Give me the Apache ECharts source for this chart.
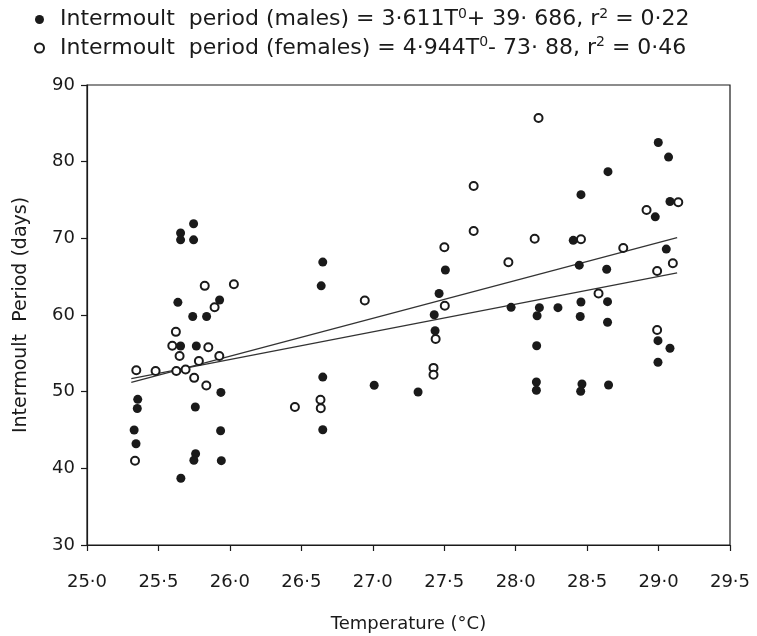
<!DOCTYPE html>
<html>
<head>
<meta charset="utf-8">
<script src="https://cdn.jsdelivr.net/npm/echarts@6/dist/echarts.min.js"></script>
<style>
	html, body { margin: 0; padding: 0; background: #fff; }
	#chart { width: 757px; height: 636px; }
</style>
</head>
<body>
<div id="chart"></div>
<script>
// males, filled dots [temperature, days]
var malePoints = [
	[25.33, 45.0], [25.343, 43.2], [25.352, 47.8], [25.355, 49.0],
	[25.655, 70.7], [25.655, 69.8], [25.746, 71.9], [25.746, 69.8],
	[25.636, 61.65], [25.928, 61.95], [25.74, 59.8], [25.837, 59.8], [25.655, 55.96], [25.765, 55.96],
	[25.758, 48.0], [25.937, 49.9], [25.935, 44.9], [25.76, 41.9], [25.748, 41.05], [25.94, 41.0], [25.657, 38.7],
	[26.65, 66.9], [26.639, 63.8], [26.65, 51.9], [26.65, 45.04], [27.01, 50.83], [27.317, 49.96],
	[27.464, 62.8], [27.43, 60.04], [27.436, 57.95], [27.508, 65.87], [27.968, 61.0],
	[28.166, 60.96], [28.15, 59.9], [28.296, 60.96], [28.403, 69.74], [28.457, 75.7], [28.445, 66.5], [28.457, 61.7], [28.452, 59.8],
	[28.147, 55.99], [28.145, 51.26], [28.145, 50.18], [28.464, 51.0], [28.455, 50.05], [28.65, 50.87],
	[28.646, 78.7], [28.637, 65.96], [28.643, 61.74], [28.643, 59.05],
	[28.998, 82.5], [29.07, 80.6], [29.08, 74.8], [28.977, 72.8], [29.054, 68.6], [28.996, 56.65], [29.08, 55.66], [28.996, 53.83]
];
// females, open circles
var femalePoints = [
	[25.336, 41.0], [25.345, 52.8], [25.48, 52.7], [25.625, 52.7], [25.69, 52.9], [25.75, 51.8], [25.835, 50.8],
	[25.622, 57.8], [25.597, 56.0], [25.849, 55.8], [25.648, 54.65], [25.783, 54.0], [25.926, 54.65],
	[25.893, 61.0], [25.824, 63.8], [26.028, 64.0],
	[26.455, 48.0], [26.634, 48.95], [26.636, 47.83], [26.944, 61.9],
	[27.425, 53.1], [27.425, 52.2], [27.44, 56.87], [27.504, 61.2], [27.501, 68.83], [27.706, 70.96], [27.706, 76.83], [27.949, 66.87],
	[28.133, 69.95], [28.457, 69.87], [28.16, 85.7], [28.58, 62.8], [28.753, 68.74], [28.916, 73.7], [29.138, 74.7],
	[28.99, 65.74], [29.10, 66.74], [28.99, 58.04]
];
// fitted lines, end points
var maleLine = [[25.31, 51.7], [29.13, 65.5]];
var femaleLine = [[25.31, 51.2], [29.13, 70.1]];

var legendNames = [
	'Intermoult  period (males) = 3·611T{sup|0}+ 39· 686, r{sup|2} = 0·22',
	'Intermoult  period (females) = 4·944T{sup|0}- 73· 88, r{sup|2} = 0·46'
];

var FONT = 'DejaVu Sans';
var INK = '#1a1a1a';

function fmtTick(v){
	return v.toFixed(1).replace('.', '·');
}

var myChart = echarts.init(document.getElementById('chart'));
var option = {
	animation: false,
	backgroundColor: '#fff',
	textStyle: { fontFamily: FONT, color: INK },
	legend: {
		orient: 'vertical',
		left: 29,
		top: 2,
		itemGap: 5,
		itemWidth: 9,
		itemHeight: 9,
		data: [legendNames[0], legendNames[1]],
		textStyle: {
			fontFamily: FONT,
			fontSize: 22,
			color: INK,
			padding: [0, 0, 0, 11],
			rich: {
				sup: { fontSize: 14, fontFamily: FONT, color: INK, padding: [0, 0, 11, 0] }
			}
		}
	},
	grid: {
		left: 87,
		right: 27,
		top: 85,
		bottom: 91,
		outerBoundsMode: 'none',
		containLabel: false,
		show: true,
		borderColor: INK,
		borderWidth: 1.2
	},
	xAxis: {
		type: 'value',
		min: 25,
		max: 29.5,
		interval: 0.5,
		name: 'Temperature (°C)',
		nameLocation: 'middle',
		nameGap: 70,
		nameTextStyle: { fontFamily: FONT, fontSize: 18, color: INK },
		axisLine: { lineStyle: { color: INK, width: 1.2 } },
		axisTick: { length: 6, lineStyle: { color: INK, width: 1.2 } },
		axisLabel: { fontSize: 18, color: INK, margin: 28, formatter: fmtTick },
		splitLine: { show: false }
	},
	yAxis: {
		type: 'value',
		min: 30,
		max: 90,
		interval: 10,
		name: 'Intermoult  Period (days)',
		nameLocation: 'middle',
		nameGap: 56,
		nameTextStyle: { fontFamily: FONT, fontSize: 19, color: INK },
		axisLine: { show: true, lineStyle: { color: INK, width: 1.2 } },
		axisTick: { show: true, length: 6, lineStyle: { color: INK, width: 1.2 } },
		axisLabel: { fontSize: 18, color: INK, margin: 12 },
		splitLine: { show: false }
	},
	series: [
		{
			type: 'line',
			data: maleLine,
			symbol: 'none',
			silent: true,
			lineStyle: { color: '#333', width: 1.3 },
			z: 1
		},
		{
			type: 'line',
			data: femaleLine,
			symbol: 'none',
			silent: true,
			lineStyle: { color: '#333', width: 1.3 },
			z: 1
		},
		{
			name: legendNames[0],
			type: 'scatter',
			data: malePoints,
			symbol: 'circle',
			symbolSize: 9,
			itemStyle: { color: INK, opacity: 1 },
			z: 3
		},
		{
			name: legendNames[1],
			type: 'scatter',
			data: femalePoints,
			symbol: 'circle',
			symbolSize: 8,
			itemStyle: { color: '#fff', borderColor: INK, borderWidth: 2, opacity: 1 },
			z: 4
		}
	]
};
myChart.setOption(option);
</script>
</body>
</html>
